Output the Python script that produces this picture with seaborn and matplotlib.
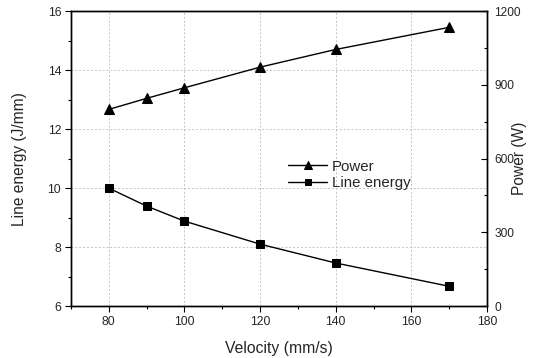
import seaborn as sns
import pandas as pd
import matplotlib.pyplot as plt
from matplotlib.ticker import MultipleLocator

velocity = [80, 90, 100, 120, 140, 170]
power = [800, 845, 888, 972, 1044, 1134]
line_energy = [10.0, 9.39, 8.88, 8.10, 7.46, 6.67]

df = pd.DataFrame({"velocity": velocity, "power": power, "line_energy": line_energy})

sns.set_style("ticks")
plt.rcParams['font.family'] = ['Liberation Sans', 'DejaVu Sans']

fig = plt.figure(figsize=(5.33, 3.58), dpi=100)
ax = fig.add_axes([0.133, 0.145, 0.781, 0.824])
ax2 = ax.twinx()

sns.lineplot(data=df, x="velocity", y="line_energy", ax=ax, color="black",
             marker="s", markersize=6, markeredgecolor="black", linewidth=1,
             label="Line energy", legend=False)
sns.lineplot(data=df, x="velocity", y="power", ax=ax2, color="black",
             marker="^", markersize=7, markeredgecolor="black", linewidth=1,
             label="Power", legend=False)

ax.set_xlim(70, 180)
ax.set_ylim(6, 16)
ax2.set_ylim(0, 1200)
ax.xaxis.set_major_locator(MultipleLocator(20))
ax.xaxis.set_minor_locator(MultipleLocator(10))
ax.yaxis.set_major_locator(MultipleLocator(2))
ax.yaxis.set_minor_locator(MultipleLocator(1))
ax2.yaxis.set_major_locator(MultipleLocator(300))
ax2.yaxis.set_minor_locator(MultipleLocator(150))

ax.grid(True, which="major", color="#c4c4c4", linestyle=(0, (2, 2)), linewidth=0.7)
ax2.grid(False)

for a in (ax, ax2):
    for s in a.spines.values():
        s.set_color("black")
        s.set_linewidth(1.0)
        s.set_visible(True)

ax.tick_params(which="major", length=4, width=0.8, color="black", labelsize=8.8, direction="out", pad=3)
ax.tick_params(which="minor", length=2.5, width=0.8, color="black", direction="out")
ax2.tick_params(which="major", length=4, width=0.8, color="black", labelsize=8.6, direction="in", pad=5)
ax2.tick_params(which="minor", length=2.5, width=0.8, color="black", direction="in")

ax.set_xlabel("Velocity (mm/s)", fontsize=11.3)
ax.set_ylabel("Line energy (J/mm)", fontsize=11.2)
ax2.set_ylabel("Power (W)", fontsize=11.2)
ax.xaxis.set_label_coords(0.5, -0.12)
ax.yaxis.set_label_coords(-0.105, 0.5)
ax2.yaxis.set_label_coords(1.06, 0.5)

h1, l1 = ax2.get_legend_handles_labels()
h2, l2 = ax.get_legend_handles_labels()
leg = ax.legend(h1 + h2, l1 + l2, loc="center left", bbox_to_anchor=(0.49, 0.445),
                frameon=False, fontsize=10.8, handlelength=2.6, handletextpad=0.3,
                labelspacing=0.15, markerscale=0.75)

fig.savefig("out.png", dpi=100)
